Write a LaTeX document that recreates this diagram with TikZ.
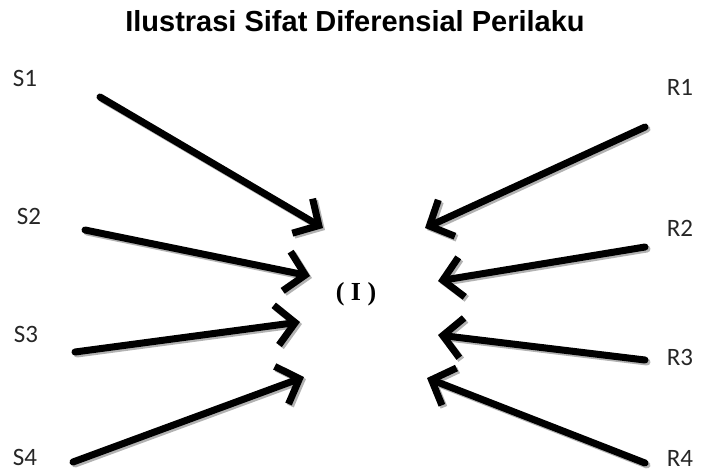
\documentclass[tikz,border=0pt]{standalone}
\usepackage{fontspec}
\setmainfont{Liberation Serif}
\newfontfamily\titlefont{Liberation Sans}
\newfontfamily\labfont{Carlito}
\usetikzlibrary{arrows.meta}
\begin{document}
\begin{tikzpicture}[x=1pt,y=-1pt,
  lab/.style={font=\labfont\fontsize{25}{28}\selectfont, text=black!85, inner sep=0pt},
  arr/.style={line width=7pt, -{Straight Barb[length=19pt,width=40pt,line width=7pt]}, line cap=round},
  shadowarr/.style={arr, draw=black!30, transform canvas={shift={(2pt,-2pt)}}}
]
\useasboundingbox (0,0) rectangle (709,473);
\node[font=\titlefont\bfseries\fontsize{29}{32}\selectfont, inner sep=0pt] (title) at (355,21) {Ilustrasi Sifat Diferensial Perilaku};
\node[font=\bfseries\fontsize{26}{30}\selectfont, inner sep=0pt] (I) at (356,294) {( I )};
\node[lab] (S1) at (25,78) {S1};
\node[lab] (S2) at (29,216) {S2};
\node[lab] (S3) at (26,334) {S3};
\node[lab] (S4) at (25,457) {S4};
\node[lab] (R1) at (680,87) {R1};
\node[lab] (R2) at (680,228) {R2};
\node[lab] (R3) at (680,357) {R3};
\node[lab] (R4) at (680,458) {R4};
\coordinate (s1a) at (100,97);  \coordinate (s1b) at (323,228);
\coordinate (s2a) at (85,230);  \coordinate (s2b) at (310,276);
\coordinate (s3a) at (75,352);  \coordinate (s3b) at (300,322);
\coordinate (s4a) at (73,462);  \coordinate (s4b) at (304,377);
\coordinate (r1a) at (645,127); \coordinate (r1b) at (425,228);
\coordinate (r2a) at (645,247); \coordinate (r2b) at (438,281);
\coordinate (r3a) at (645,360); \coordinate (r3b) at (438,335);
\coordinate (r4a) at (645,463); \coordinate (r4b) at (427,378);
\foreach \p in {s1,s2,s3,s4,r1,r2,r3,r4}{
  \draw[shadowarr] (\p a) -- (\p b);
}
\foreach \p in {s1,s2,s3,s4,r1,r2,r3,r4}{
  \draw[arr] (\p a) -- (\p b);
}
\end{tikzpicture}
\end{document}
